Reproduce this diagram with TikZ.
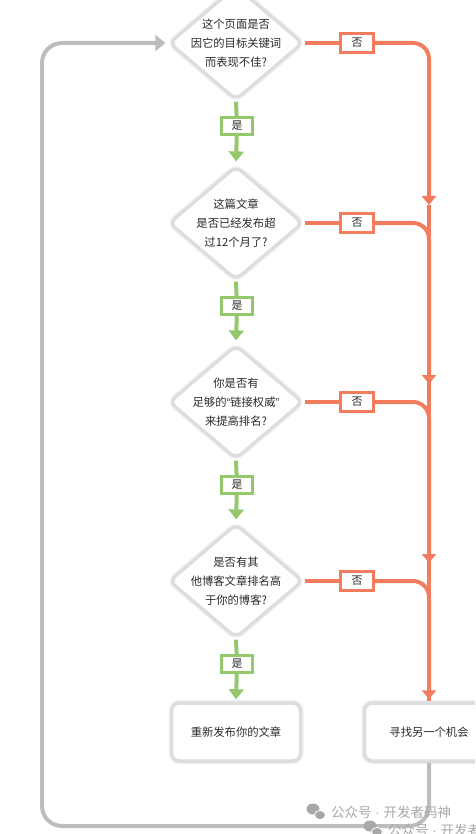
\documentclass[tikz,border=0pt]{standalone}
\usepackage{fontspec}
\setmainfont{Noto Sans CJK SC}
\newfontfamily\latq{Liberation Sans}
\usetikzlibrary{shapes.geometric,arrows.meta}
\definecolor{redc}{HTML}{F47C5E}
\definecolor{greenc}{HTML}{93C96B}
\definecolor{grayc}{HTML}{BDBDBD}
\definecolor{boxc}{HTML}{DDDDDD}
\definecolor{shadc}{HTML}{EFEFEF}
\definecolor{txt}{HTML}{2A2A2A}
\definecolor{wmc}{HTML}{A8A8A8}
\begin{document}
\begin{tikzpicture}[x=1pt,y=-1pt,
  dia/.style={diamond, draw=boxc, line width=3.2pt, fill=white, minimum width=134pt, minimum height=114pt, inner sep=0pt, rounded corners=7pt, preaction={draw=shadc, line width=6pt}},
  dtext/.style={align=center, font=\fontsize{11.3}{19}\selectfont, text=txt, inner sep=0pt},
  endbox/.style={draw=boxc, line width=3.5pt, fill=white, rounded corners=8pt, minimum width=129pt, minimum height=58pt, inner sep=0pt, font=\fontsize{11.3}{14}\selectfont, text=txt, preaction={draw=shadc, line width=6pt}},
  yesbox/.style={draw=greenc, line width=2.6pt, fill=white, minimum width=31pt, minimum height=17pt, inner sep=0pt, font=\fontsize{11}{13}\selectfont, text=txt},
  nobox/.style={draw=redc, line width=2.6pt, fill=white, minimum width=33pt, minimum height=19pt, inner sep=0pt, font=\fontsize{11}{13}\selectfont, text=txt},
  gline/.style={draw=greenc, line width=4pt},
  rline/.style={draw=redc, line width=4pt},
  loopline/.style={draw=grayc, line width=4pt},
  gtip/.style={-{Triangle[width=15pt,length=10pt]}},
  rtip/.style={-{Triangle[width=14pt,length=9pt]}},
  wm/.style={text=wmc, font=\fontsize{13.5}{16}\selectfont, inner sep=0pt, anchor=west}
]
\useasboundingbox (0,0) rectangle (475,834);
\clip (0,0) rectangle (475,834);

\coordinate (lb) at (42,826);
% diamonds
\node[dia] (d1) at (236,43) {};
\node[dia] (d2) at (236,223) {};
\node[dia] (d3) at (236,402) {};
\node[dia] (d4) at (236,581) {};
\node[dtext] (t1) at (d1) {这个页面是否\\因它的目标关键词\\而表现不佳?};
\node[dtext] (t2) at (d2) {这篇文章\\是否已经发布超\\过12个月了?};
\node[dtext] (t3) at (d3) {你是否有\\足够的{\latq “}链接权威{\latq ”}\\来提高排名?};
\node[dtext] (t4) at (d4) {是否有其\\他博客文章排名高\\于你的博客?};

% end boxes
\node[endbox] (b1) at (236,732) {重新发布你的文章};
\node[endbox] (b2) at (429,732) {寻找另一个机会};

% yes labels
\node[yesbox] (y1) at (237,126) {是};
\node[yesbox] (y2) at (237,306) {是};
\node[yesbox] (y3) at (237,485) {是};
\node[yesbox] (y4) at (237,664) {是};
% no labels
\node[nobox] (n1) at (357,43) {否};
\node[nobox] (n2) at (357,223) {否};
\node[nobox] (n3) at (357,402) {否};
\node[nobox] (n4) at (357,581) {否};

% green connectors
\draw[gline] (d1.south) -- (y1);
\draw[gline,gtip,shorten >=3pt] (y1) -- (d2.north);
\draw[gline] (d2.south) -- (y2);
\draw[gline,gtip,shorten >=3pt] (y2) -- (d3.north);
\draw[gline] (d3.south) -- (y3);
\draw[gline,gtip,shorten >=3pt] (y3) -- (d4.north);
\draw[gline] (d4.south) -- (y4);
\draw[gline,gtip,shorten >=2pt] (y4) -- (b1.north);

% red connectors
\coordinate (a1) at (429,205);
\coordinate (a2) at (429,384);
\coordinate (a3) at (429,563);
\draw[rline] (d1.east) -- (n1);
\draw[rline] (d2.east) -- (n2);
\draw[rline] (d3.east) -- (n3);
\draw[rline] (d4.east) -- (n4);
\draw[rline] (a1) -- (a2);
\draw[rline] (a2) -- (a3);
\draw[rline] (a3) -- (b2.north);
\draw[rline,rtip,rounded corners=16pt] (n1.east) -| (a1);
\draw[rline,rtip,rounded corners=16pt] (n2.east) -| (a2);
\draw[rline,rtip,rounded corners=16pt] (n3.east) -| (a3);
\draw[rline,rtip,rounded corners=16pt,shorten >=2pt] (n4.east) -| (b2.north);

% gray loop back
\draw[loopline,rounded corners=20pt,-{Triangle[width=16pt,length=10pt]},shorten >=2pt] (b2.south) |- (lb) |- (d1.west);

% watermark
\fill[wmc] (313,809) ellipse (6.5pt and 5.5pt);
\fill[wmc,draw=white,line width=0.8pt] (320,815) ellipse (5.5pt and 4.6pt);
\node[wm] (w1) at (331,812) {公众号{\latq\ ·\ }开发者码神};
\fill[wmc] (370,826) ellipse (6.5pt and 5.5pt);
\fill[wmc,draw=white,line width=0.8pt] (377,832) ellipse (5.5pt and 4.6pt);
\node[wm] (w2) at (388,830) {公众号{\latq\ ·\ }开发者码神};
\end{tikzpicture}
\end{document}
